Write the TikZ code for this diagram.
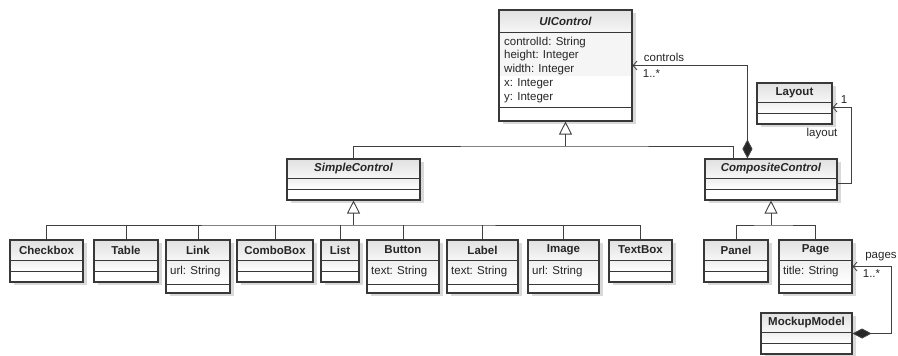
\documentclass[tikz,border=0pt]{standalone}
\usepackage{fontspec}
\setmainfont{Liberation Sans}
\usetikzlibrary{arrows.meta,fit,calc}
\newcommand\umlfont{\fontsize{11.5}{13.8}\selectfont}
% #1 name, #2 left, #3 top, #4 right, #5 bottom, #6 header bottom, #7 second line, #8 title, #9 attribute
\newcommand\umlcls[9]{%
  \fill[shadowc] ({#2+4},{#3+3}) rectangle ({#4+4},{#5+3});
  \shade[top color=hdrtop, bottom color=hdrbot] (#2,#3) rectangle (#4,#6);
  \shade[top color=attrtop, bottom color=white] (#2,#6) rectangle (#4,#7);
  \fill[white] (#2,#7) rectangle (#4,#5);
  \draw[cmp] (#2,#6) -- (#4,#6) (#2,#7) -- (#4,#7);
  \node[boxline, fit={(#2,#3) (#4,#5)}] (#1) {};
  \node[font=\umlfont\bfseries] (#1-t) at ({(#2+#4)/2},{(#3+#6)/2}) {#8};
  \node[anchor=west] (#1-a) at ({#2+4},{(#6+#7)/2}) {#9};
}
\colorlet{shadowc}{gray!30}
\colorlet{hdrtop}{gray!24}
\colorlet{hdrbot}{gray!7}
\colorlet{attrtop}{gray!13}
\begin{document}
\begin{tikzpicture}[x=1pt,y=-1pt,
  every node/.style={inner sep=0pt, text=black!85, font=\umlfont},
  boxline/.style={draw=black!78, line width=1.1pt, inner sep=0pt},
  cmp/.style={draw=black!78, line width=1pt},
  conn/.style={draw=black!75, line width=0.9pt},
  gen/.style={conn, -{Triangle[open, length=13pt, width=13pt, line width=0.9pt]}},
  assoc/.style={conn, -{Straight Barb[length=4pt, width=9pt, line width=0.8pt]}},
  comp/.style={conn, {Diamond[length=19pt, width=10pt, fill=black!85]}-{Straight Barb[length=4pt, width=9pt, line width=0.8pt]}}
]
\fill[white] (0,0) rectangle (898,356);
\useasboundingbox (0,0) rectangle (898,356);

% UIControl
\fill[shadowc] (503,13) rectangle (636,124);
\shade[top color=hdrtop, bottom color=hdrbot] (499,10) rectangle (632,32);
\fill[gray!8] (499,32) rectangle (632,76);
\fill[white] (499,76) rectangle (632,121);
\draw[cmp] (499,32) -- (632,32) (499,107) -- (632,107);
\node[boxline, fit={(499,10) (632,121)}] (UIControl) {};
\node[font=\umlfont\bfseries\itshape] (UIControl-t) at (565.5,21) {UIControl};
\node[anchor=north west, align=left] (UIControl-a) at (504,36.5)
  {controlId: String\\height: Integer\\width: Integer\\x: Integer\\y: Integer};

% second level
\umlcls{SimpleControl}{287}{159}{420}{200}{178}{189}{\itshape SimpleControl}{}
\umlcls{CompositeControl}{705}{159}{837}{200}{178}{189}{\itshape CompositeControl}{}
\umlcls{Layout}{757}{83}{832}{124}{102}{113}{Layout}{}

% leaves
\umlcls{Checkbox}{10}{240}{83}{282}{260}{271}{Checkbox}{}
\umlcls{Table}{94}{240}{158}{282}{260}{271}{Table}{}
\umlcls{Link}{166}{240}{230}{293}{260}{284}{Link}{url: String}
\umlcls{ComboBox}{237}{240}{313}{282}{260}{271}{ComboBox}{}
\umlcls{List}{321}{240}{359}{282}{260}{271}{List}{}
\umlcls{Button}{367}{240}{439}{293}{260}{284}{Button}{text: String}
\umlcls{Label}{447}{240}{518}{293}{260}{284}{Label}{text: String}
\umlcls{Image}{528}{240}{599}{293}{260}{284}{Image}{url: String}
\umlcls{TextBox}{609}{240}{672}{282}{260}{271}{TextBox}{}
\umlcls{Panel}{704}{240}{768}{282}{260}{271}{Panel}{}
\umlcls{Page}{779}{240}{852}{293}{260}{284}{Page}{title: String}
\umlcls{MockupModel}{761}{313}{852}{354}{332}{343}{MockupModel}{}

% generalization UIControl
\coordinate (uibus) at (565.5,146);
\coordinate (ccjoin) at ($(CompositeControl.north west)+(29,0)$);
\draw[gen] (uibus) -- (UIControl.south);
\draw[conn] (SimpleControl.north) |- (uibus) -| (ccjoin);

% generalization SimpleControl
\coordinate (scbus) at (353.5,225);
\draw[gen] (scbus) -- (SimpleControl.south);
\draw[conn] (Checkbox.north) |- (scbus) -| (TextBox.north);
\foreach \n in {Table,Link,ComboBox,List,Button,Label,Image}
  \draw[conn] (\n.north) -- (\n.north |- scbus);

% generalization CompositeControl
\coordinate (ccbus) at (771,225);
\draw[gen] (ccbus) -- (CompositeControl.south);
\draw[conn] (Panel.north) |- (ccbus) -| (Page.north);

% associations
\coordinate (ccdia) at ($(CompositeControl.north west)+(43,0)$);
\draw[comp] (ccdia) |- (UIControl.east);
\node (lbl-controls) at (664,57) {controls};
\node (lbl-cmult) at (651.5,74) {1..*};

\coordinate (ccright) at ($(CompositeControl.south east)+(0,-17)$);
\coordinate (layright) at ($(Layout.south east)+(0,-17)$);
\draw[assoc] (ccright) -- ++(14,0) |- (layright);
\node (lbl-lmult) at (844,100) {1};
\node (lbl-layout) at (822,134) {layout};

\draw[comp] (MockupModel.east) -- ++(39,0) |- (Page.east);
\node (lbl-pages) at (881,257) {pages};
\node (lbl-pmult) at (871.5,274) {1..*};
\end{tikzpicture}
\end{document}
